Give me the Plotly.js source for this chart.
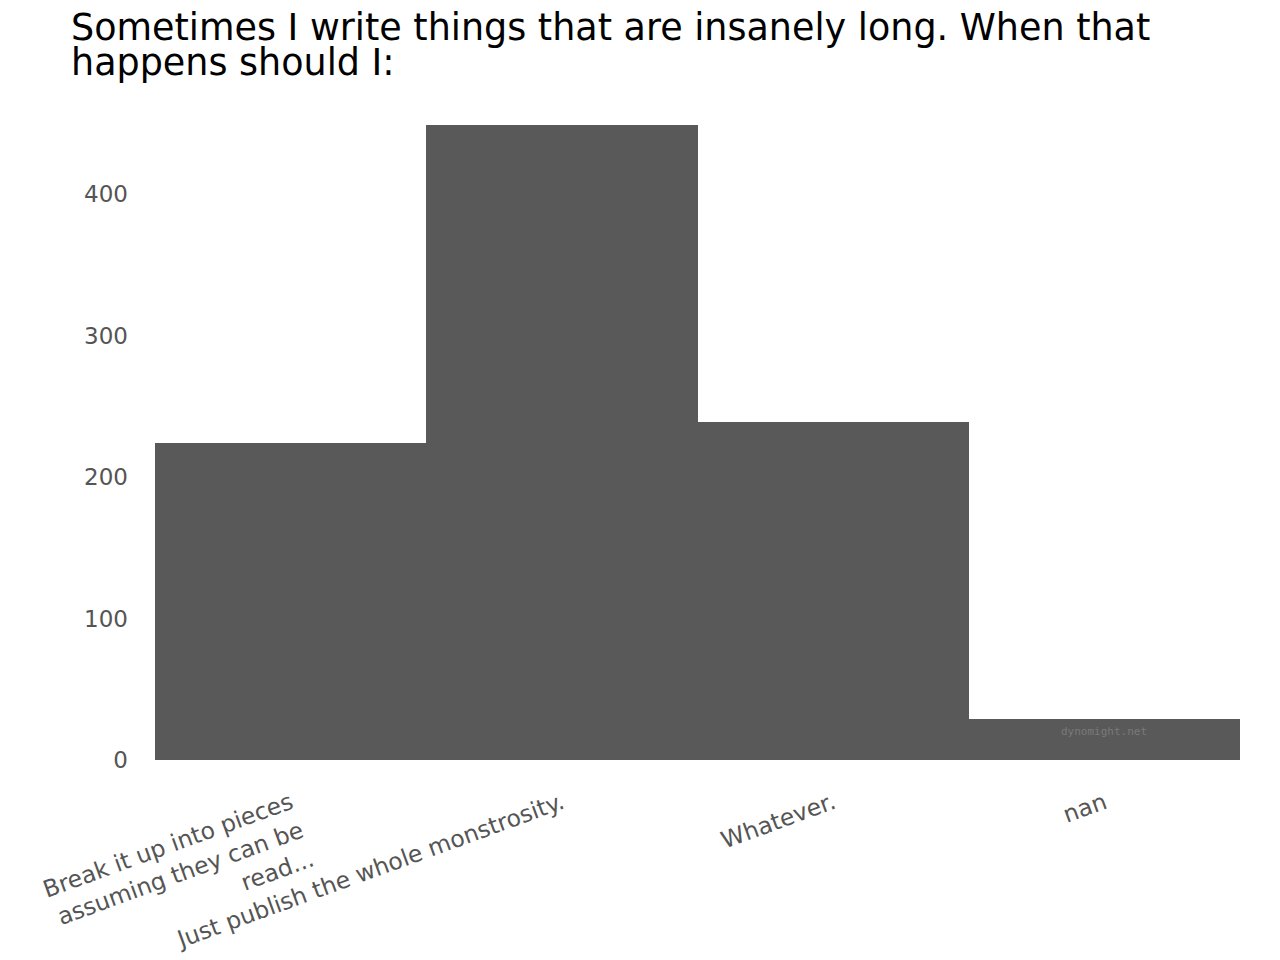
<!DOCTYPE html>
<html>
<head>
<meta charset="utf-8">
<script src="https://cdn.plot.ly/plotly-3.0.1.min.js"></script>
<style>html,body{margin:0;padding:0;background:#fff;}#chart{width:1280px;height:960px;}</style>
</head>
<body>
<div id="chart"></div>
<script>
const categories = [
  "Break it up into pieces<br>assuming they can be<br>read...",
  "Just publish the whole monstrosity.",
  "Whatever.",
  "nan"
];
const counts = [224, 449, 239, 29];
const titleLines = [
  "Sometimes I write things that are insanely long. When that",
  "happens should I:"
];
const yTicks = [0, 100, 200, 300, 400];

const fontFam = "DejaVu Sans, Noto Sans, sans-serif";

Plotly.newPlot("chart", [{
  type: "bar",
  x: categories,
  y: counts,
  marker: {color: "#595959"},
  hoverinfo: "x+y"
}], {
  width: 1280,
  height: 960,
  paper_bgcolor: "#ffffff",
  plot_bgcolor: "#ffffff",
  bargap: 0,
  margin: {l: 155, r: 40, t: 125, b: 200},
  xaxis: {
    tickangle: -20,
    tickfont: {family: fontFam, size: 23.5, color: "#555555"},
    showgrid: false, zeroline: false, showline: false,
    ticks: "", ticklabelstandoff: 24
  },
  yaxis: {
    range: [0, 449],
    tickvals: yTicks,
    tickfont: {family: fontFam, size: 23, color: "#555555"},
    showgrid: false, zeroline: false, showline: false,
    ticks: "", ticklabelstandoff: 26
  },
  annotations: [
    {
      text: titleLines[0],
      xref: "paper", yref: "paper",
      x: -0.0793, y: 1.1535, xanchor: "left", yanchor: "middle",
      showarrow: false,
      font: {family: fontFam, size: 36.5, color: "#000000"}
    },
    {
      text: titleLines[1],
      xref: "paper", yref: "paper",
      x: -0.0793, y: 1.099, xanchor: "left", yanchor: "middle",
      showarrow: false,
      font: {family: fontFam, size: 36.5, color: "#000000"}
    },
    {
      text: "dynomight.net",
      xref: "x", yref: "y",
      x: 3, y: 20,
      showarrow: false,
      font: {family: "DejaVu Sans Mono, monospace", size: 11, color: "#7a7a7a"}
    }
  ],
  showlegend: false
}, {displayModeBar: false, staticPlot: true});
</script>
</body>
</html>
